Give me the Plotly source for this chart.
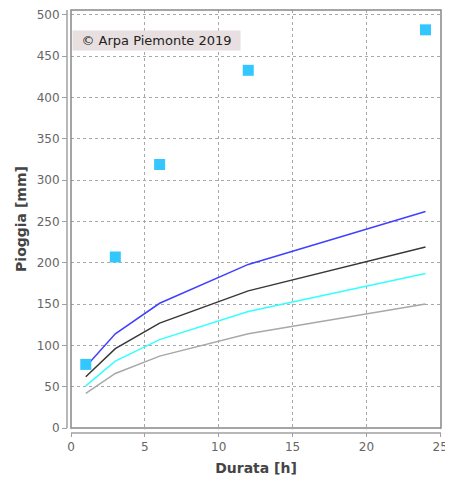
import plotly.graph_objects as go

# Durate [h] e piogge [mm]
durate = [1, 3, 6, 12, 24]
pioggia_max = [77, 207, 319, 433, 482]
curva_blu = [74, 114, 151, 198, 262]
curva_nera = [62, 96, 127, 166, 219]
curva_ciano = [51, 81, 107, 141, 187]
curva_grigia = [42, 66, 87, 114, 150]

x_ticks = [0, 5, 10, 15, 20, 25]
y_ticks = [0, 50, 100, 150, 200, 250, 300, 350, 400, 450, 500]

W, H = 453, 480
# the page body adds an 8px offset, so margins are shifted to compensate
L, R, T, B = 63, 20, 2, 60
PW, PH = W - L - R, H - T - B

AXIS_GRAY = "#a0a0a0"
TICK_FONT = dict(family="DejaVu Sans", size=12, color="#666666")
TITLE_FONT = dict(family="DejaVu Sans", size=14, color="#444444")

fig = go.Figure()

lines = [
    (curva_grigia, "#a8a8a8"),
    (curva_ciano, "#33ffff"),
    (curva_nera, "#383838"),
    (curva_blu, "#4040ff"),
]
for values, color in lines:
    fig.add_trace(go.Scatter(x=durate, y=values, mode="lines",
                             line={"color": color, "width": 1.5}, showlegend=False))

fig.add_trace(go.Scatter(x=durate, y=pioggia_max, mode="markers",
                         marker={"symbol": "square", "size": 11, "color": "#33c6ff"},
                         showlegend=False))

grid = dict(showgrid=True, gridcolor="#a8a8a8", griddash="dot", gridwidth=1,
            zeroline=False, showline=False, ticks="outside", ticklen=8,
            tickcolor=AXIS_GRAY, tickwidth=1, tickfont=TICK_FONT, automargin=False)

fig.update_xaxes(range=[0, 25.05], tickvals=x_ticks,
                 title={"text": "<b>Durata [h]</b>", "font": TITLE_FONT, "standoff": 9},
                 **grid)
fig.update_yaxes(range=[0, 506], tickvals=y_ticks,
                 title={"text": "<b>Pioggia [mm]</b>", "font": TITLE_FONT, "standoff": 6},
                 **grid)

dx = 4 / PW
dy = 5 / PH
shapes = [
    # plot border
    dict(type="rect", xref="paper", yref="paper", x0=0, x1=1, y0=0, y1=1,
         line={"color": "#888888", "width": 1.5}, layer="above"),
    # white gaps between border and offset axes
    dict(type="rect", xref="paper", yref="paper", x0=-dx, x1=-0.003, y0=-dy, y1=1,
         fillcolor="white", line={"width": 0}, layer="above"),
    dict(type="rect", xref="paper", yref="paper", x0=-dx, x1=1, y0=-dy, y1=-0.003,
         fillcolor="white", line={"width": 0}, layer="above"),
    # offset axis lines
    dict(type="line", xref="paper", yref="paper", x0=-dx, x1=-dx, y0=0, y1=1,
         line={"color": AXIS_GRAY, "width": 1.5}, layer="above"),
    dict(type="line", xref="paper", yref="paper", x0=0, x1=1, y0=-dy, y1=-dy,
         line={"color": AXIS_GRAY, "width": 1.5}, layer="above"),
]

fig.update_layout(
    width=W, height=H,
    margin=dict(l=L, r=R, t=T, b=B),
    paper_bgcolor="white", plot_bgcolor="white",
    shapes=shapes,
    annotations=[dict(
        text="© Arpa Piemonte 2019", xref="paper", yref="paper",
        x=0.002, y=(H - B - 32) / PH, xanchor="left", yanchor="middle",
        showarrow=False, bgcolor="#e8e0e0", width=165, height=17, borderpad=1,
        font=dict(family="DejaVu Sans", size=13, color="#222222"),
    )],
)

fig.write_html("out.html")
